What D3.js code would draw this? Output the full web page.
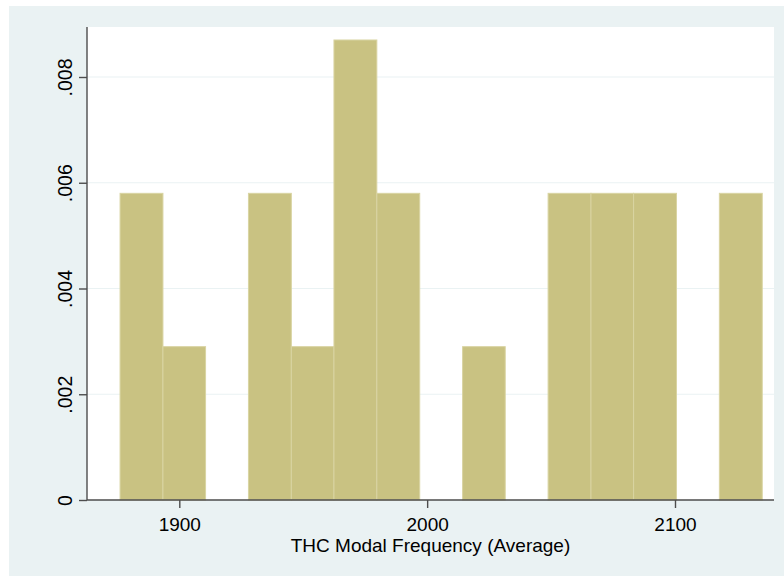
<!DOCTYPE html>
<html>
<head>
<meta charset="utf-8">
<script src="https://cdn.jsdelivr.net/npm/d3@7"></script>
<style>
  body { margin: 0; background: #fff; }
  svg { display: block; font-family: "Liberation Sans", Arial, sans-serif; }
</style>
</head>
<body>
<svg id="chart" width="784" height="576"></svg>
<script>
// bin edges (THC modal frequency)
var binStart = [1876.1, 1893.4, 1910.6, 1927.9, 1945.2, 1962.4, 1979.7, 1997.0,
                2014.3, 2031.5, 2048.8, 2066.1, 2083.3, 2100.6, 2117.9];
var binEnd   = [1893.4, 1910.6, 1927.9, 1945.2, 1962.4, 1979.7, 1997.0, 2014.3,
                2031.5, 2048.8, 2066.1, 2083.3, 2100.6, 2117.9, 2135.2];
// density per bin
var density  = [.0058, .0029, 0, .0058, .0029, .0087, .0058, 0,
                .0029, 0, .0058, .0058, .0058, 0, .0058];
var xTicks = [1900, 2000, 2100];
var yTicks = [0, .002, .004, .006, .008];
var yTickLabels = ["0", ".002", ".004", ".006", ".008"];
var xTitle = "THC Modal Frequency (Average)";

var svg = d3.select("#chart");

// plot area edges
var pLeft = 87, pRight = 774, pTop = 27, pBottom = 500;

var x = d3.scaleLinear().domain([1900, 2100]).range([179.3, 675]);
var y = d3.scaleLinear().domain([0, .008]).range([pBottom, 77]);

var bins = density.map(function(d, i){
  return { x0: binStart[i], x1: binEnd[i], v: d };
}).filter(function(b){ return b.v > 0; });

// outer background
svg.append("rect")
  .attr("x", 9).attr("y", 6)
  .attr("width", 784 - 9).attr("height", 576 - 6)
  .attr("fill", "#eaf2f3");

// plot region
svg.append("rect")
  .attr("x", pLeft).attr("y", pTop)
  .attr("width", pRight - pLeft).attr("height", pBottom - pTop)
  .attr("fill", "#ffffff");

// gridlines
svg.selectAll("line.grid")
  .data(yTicks.filter(function(d){ return d > 0; }))
  .enter().append("line")
  .attr("class", "grid")
  .attr("x1", pLeft).attr("x2", pRight)
  .attr("y1", function(d){ return y(d); })
  .attr("y2", function(d){ return y(d); })
  .attr("stroke", "#eaf2f3")
  .attr("stroke-width", 1.2);

// bars
svg.selectAll("rect.bar")
  .data(bins)
  .enter().append("rect")
  .attr("class", "bar")
  .attr("x", function(d){ return x(d.x0); })
  .attr("width", function(d){ return x(d.x1) - x(d.x0); })
  .attr("y", function(d){ return y(d.v); })
  .attr("height", function(d){ return y(0) - y(d.v); })
  .attr("fill", "#c9c282")
  .attr("stroke", "#d9d4a2")
  .attr("stroke-width", 1);

// y axis
var yAxis = svg.append("g")
  .attr("transform", "translate(" + pLeft + ",0)")
  .call(d3.axisLeft(y).tickValues(yTicks).tickSize(8)
    .tickFormat(function(d, i){ return yTickLabels[i]; }));
yAxis.select(".domain")
  .attr("d", "M0," + pTop + "V" + pBottom)
  .attr("stroke", "#4d4d4d").attr("stroke-width", 1.4);
yAxis.selectAll(".tick line").attr("stroke", "#4d4d4d").attr("stroke-width", 1.4);
yAxis.selectAll(".tick text")
  .attr("x", null).attr("dy", null)
  .attr("transform", "translate(-15,0) rotate(-90)")
  .attr("text-anchor", "middle")
  .attr("fill", "#000")
  .style("font-size", "19.5px");

// x axis
var xAxis = svg.append("g")
  .attr("transform", "translate(0," + pBottom + ")")
  .call(d3.axisBottom(x).tickValues(xTicks).tickSize(8).tickFormat(d3.format("d")));
xAxis.select(".domain")
  .attr("d", "M" + pLeft + ",0H" + pRight)
  .attr("stroke", "#4d4d4d").attr("stroke-width", 1.4);
xAxis.selectAll(".tick line").attr("stroke", "#4d4d4d").attr("stroke-width", 1.4);
xAxis.selectAll(".tick text")
  .attr("y", 30.5).attr("dy", null)
  .attr("fill", "#000")
  .style("font-size", "19px");

// axis title
svg.append("text")
  .attr("x", (pLeft + pRight) / 2)
  .attr("y", 552)
  .attr("text-anchor", "middle")
  .style("font-size", "19px")
  .text(xTitle);
</script>
</body>
</html>
